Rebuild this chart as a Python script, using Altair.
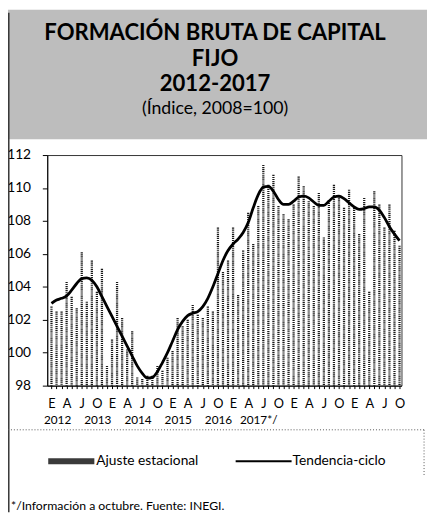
import altair as alt
import pandas as pd

FONT = "Lato"

MONTH_LETTERS = ["E", "A", "J", "O"]
YEARS = ["2012", "2013", "2014", "2015", "2016", "2017*/"]
Y_TICKS = [98, 100, 102, 104, 106, 108, 110, 112]

TITLE_LINES = ["FORMACIÓN BRUTA DE CAPITAL", "FIJO", "2012-2017"]
SUBTITLE = "(Índice, 2008=100)"
LEGEND_LABELS = ["Ajuste estacional", "Tendencia-ciclo"]
FOOTNOTE = "*/Información a octubre.   Fuente: INEGI."

# Monthly index, Jan 2012 - Oct 2017 (70 months)
AJUSTE = [
    102.8, 102.5, 102.5, 104.3, 103.4, 102.7, 106.1, 103.1, 105.6, 103.7, 105.1, 99.2,
    100.8, 104.3, 102.1, 100.2, 101.3, 98.5, 98.4, 98.6, 98.6, 99.2, 98.9, 99.7,
    100.1, 102.1, 101.6, 102.0, 102.9, 102.3, 102.1, 102.8, 102.5, 107.6, 104.9, 105.6,
    107.6, 103.5, 106.2, 108.5, 106.6, 108.9, 111.4, 110.2, 110.8, 108.9, 108.4, 108.1,
    109.0, 110.7, 110.1, 109.2, 108.9, 109.7, 107.0, 109.1, 110.2, 109.5, 108.8, 109.9,
    108.8, 107.2, 109.4, 103.7, 109.8, 109.0, 107.6, 109.0, 107.4, 106.5,
]
TENDENCIA = [
    103.0, 103.2, 103.3, 103.45, 103.8, 104.2, 104.5, 104.55, 104.4, 104.0, 103.4, 102.8,
    102.2, 101.6, 101.0, 100.4, 99.8, 99.2, 98.75, 98.45, 98.5, 98.85, 99.4, 100.0,
    100.7, 101.4, 101.9, 102.25, 102.4, 102.5, 102.8, 103.3, 104.0, 104.8, 105.6, 106.2,
    106.6, 106.9, 107.3, 107.9, 108.8, 109.6, 110.05, 110.1, 109.8, 109.3, 109.0, 109.0,
    109.2, 109.45, 109.5, 109.4, 109.15, 108.95, 108.95, 109.2, 109.45, 109.5, 109.35, 109.1,
    108.85, 108.7, 108.75, 108.85, 108.85, 108.65, 108.2, 107.65, 107.2, 106.8,
]

df = pd.DataFrame({"idx": list(range(len(AJUSTE))), "ajuste": AJUSTE, "tendencia": TENDENCIA})
one = pd.DataFrame({"k": [0]})

letters_js = "[" + ",".join("'" + m + "'" for m in MONTH_LETTERS) + "]"
label_expr = f"datum.value % 3 == 0 ? {letters_js}[(datum.value % 12) / 3] : ''"

xscale = alt.Scale(domain=[-0.84, 69.39], nice=False, zero=False)
yscale = alt.Scale(domain=[98, 112], nice=False, zero=False)

x_axis = alt.Axis(values=list(range(len(AJUSTE))), labelExpr=label_expr, title=None,
                  tickSize=3, labelPadding=9, labelFontSize=13, labelAngle=0,
                  labelOverlap=False, labelFlush=False, grid=False,
                  domainColor="black", tickColor="black", labelColor="black")
y_axis = alt.Axis(values=Y_TICKS, title=None, tickSize=5, labelPadding=12,
                  labelFontSize=14, grid=False, labelOverlap=False,
                  domainColor="black", tickColor="black", labelColor="black")

base = alt.Chart(df)

bars = base.mark_rule(color="#1a1a1a", strokeWidth=2.3, strokeDash=[1.2, 0.9]).encode(
    x=alt.X("idx:Q", scale=xscale, axis=x_axis),
    y=alt.Y("ajuste:Q", scale=yscale, axis=y_axis),
    y2=alt.datum(98),
)

line = base.mark_line(color="black", strokeWidth=2.8, interpolate="monotone").encode(
    x=alt.X("idx:Q", scale=xscale, axis=x_axis),
    y=alt.Y("tendencia:Q", scale=yscale, axis=y_axis),
)


def txt(text, x, y, size, weight="normal", align="center"):
    return alt.Chart(one).mark_text(
        text=text, fontSize=size, fontWeight=weight, font=FONT, align=align,
        baseline="middle", color="black"
    ).encode(x=alt.value(x), y=alt.value(y))


title_bg = alt.Chart(one).mark_rect(color="#bdbdbd").encode(
    x=alt.value(-40), x2=alt.value(390), y=alt.value(-148), y2=alt.value(-16)
)
left_border = alt.Chart(one).mark_rule(color="#333333", strokeWidth=1.5).encode(
    x=alt.value(-39.2), y=alt.value(-145), y2=alt.value(364)
)
legend_top = alt.Chart(one).mark_rule(color="#555555", strokeWidth=1, strokeDash=[1, 2]).encode(
    x=alt.value(-40), x2=alt.value(384), y=alt.value(280)
)
legend_right = alt.Chart(one).mark_rule(color="#555555", strokeWidth=1, strokeDash=[1, 2]).encode(
    x=alt.value(384), y=alt.value(280), y2=alt.value(328)
)
swatch = alt.Chart(one).mark_rect(color="#3a3a3a").encode(
    x=alt.value(1), x2=alt.value(48), y=alt.value(309), y2=alt.value(315)
)
line_sample = alt.Chart(one).mark_rule(color="black", strokeWidth=2).encode(
    x=alt.value(192), x2=alt.value(249), y=alt.value(312)
)

layers = [title_bg, left_border, bars, line]
title_y = [-124, -98, -72]
for t, yy in zip(TITLE_LINES, title_y):
    layers.append(txt(t, 171, yy, 22.5, "bold"))
layers.append(txt(SUBTITLE, 171, -47, 18))
for k, yr in enumerate(YEARS):
    layers.append(txt(yr, 10.5 + 41 * k, 270, 12))
layers += [legend_top, legend_right, swatch, line_sample]
layers.append(txt(LEGEND_LABELS[0], 50, 312, 14, align="left"))
layers.append(txt(LEGEND_LABELS[1], 250, 312, 14, align="left"))
layers.append(txt(FOOTNOTE, -37, 358, 12.5, align="left"))

chart = alt.layer(*layers).properties(
    width=361, height=235,
    autosize="none",
    padding={"left": 40, "top": 145, "right": 26, "bottom": 129},
    background="white",
).configure_view(stroke="#333333", strokeWidth=1).configure_axis(
    labelFont=FONT, labelOverlap=False
)

chart.save("out.html", embed_options={"renderer": "svg", "actions": False})
